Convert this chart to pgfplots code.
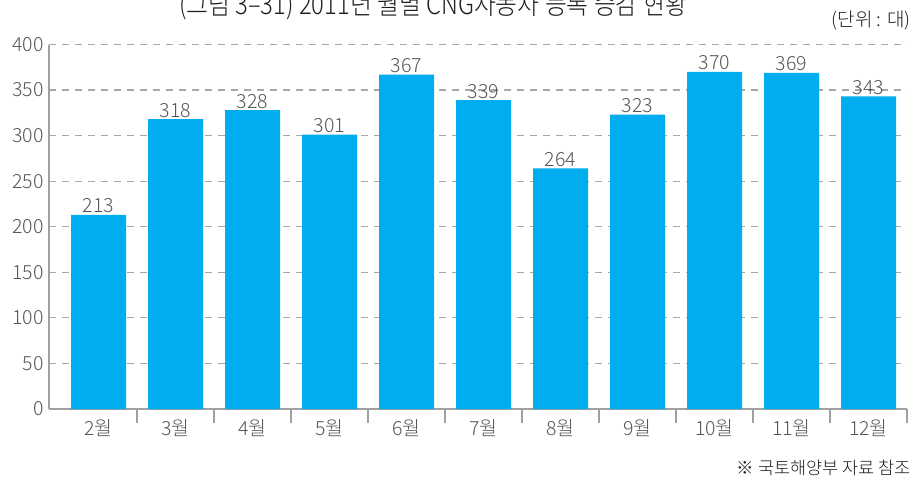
\documentclass[border=0pt]{standalone}
\usepackage{pgfplots}
\pgfplotsset{compat=1.18}
\usepackage{graphicx}
\usepackage{fontspec}
\setmainfont{Noto Sans CJK KR}[UprightFont={* Light}]
\definecolor{barblue}{RGB}{0,174,239}
\definecolor{gridgray}{RGB}{168,168,168}
\definecolor{axisgray}{RGB}{160,160,160}
\definecolor{txtgray}{RGB}{85,85,85}
\definecolor{titlegray}{RGB}{30,30,30}

\begin{document}
\begin{tikzpicture}[x=1pt,y=1pt]
\clip (0,0) rectangle (913,480);
\begin{axis}[
  at={(49pt,71pt)}, anchor=south west,
  scale only axis,
  width=858pt, height=364.5pt,
  xmin=-0.643, xmax=10.5,
  ymin=0, ymax=400,
  enlargelimits=false,
  ybar, bar width=55pt,
  axis lines=left,
  axis line style={axisgray, line width=1.2pt, -},
  xtick={0,...,10},
  xticklabels={2월,3월,4월,5월,6월,7월,8월,9월,10월,11월,12월},
  minor xtick={0.5,1.5,...,10.5},
  ytick={0,50,...,400},
  major tick length=0pt,
  minor tick length=14pt,
  tick align=outside,
  tick style={axisgray, line width=1.2pt},
  ymajorgrids=true,
  grid style={gridgray, line width=1.2pt, dash pattern=on 7pt off 6pt},
  tick label style={font=\fontsize{19.5}{22}\selectfont, text=txtgray},
  xticklabel style={yshift=-7pt},
  yticklabel style={xshift=-2pt},
  /pgf/number format/assume math mode=true,
  nodes near coords,
  nodes near coords style={font=\fontsize{19.5}{22}\selectfont, text=txtgray, inner sep=1.5pt},
]
\addplot[fill=barblue, draw=none] coordinates {
  (0,213) (1,318) (2,328) (3,301) (4,367) (5,339) (6,264) (7,323) (8,370) (9,369) (10,343)
};
\end{axis}
\node[anchor=base, font=\fontsize{28}{32}\selectfont, text=titlegray] at (433,465)
  {\scalebox{0.85}[1]{(그림 3–31) 2011년 월별 CNG자동차 등록 증감 현황}};
\node[anchor=base east, inner sep=0pt, font=\fontsize{19}{22}\selectfont, text=titlegray] at (911,453) {(단위 : 대)};
\node[anchor=base east, inner sep=0pt, font=\fontsize{17.5}{20}\selectfont, text=titlegray] at (911,6) {※ 국토해양부 자료 참조};
\end{tikzpicture}
\end{document}
